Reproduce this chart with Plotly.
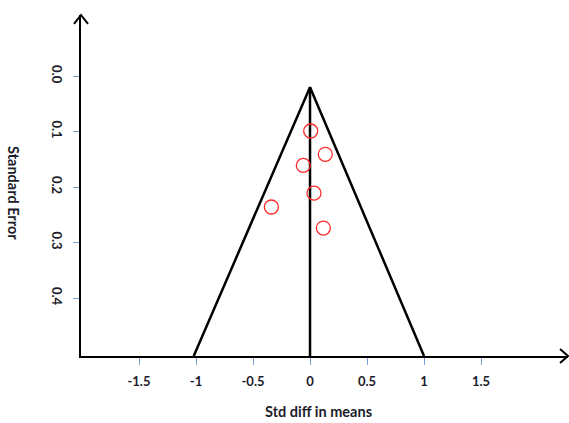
import plotly.graph_objects as go

# Study points (effect size, standard error)
effect = [0.006, 0.134, -0.059, 0.035, -0.339, 0.117]
std_err = [0.099, 0.141, 0.161, 0.211, 0.236, 0.274]

# Funnel outline
funnel_x = [-1.02, 0.0, 1.0]
funnel_se = [0.5045, 0.02, 0.5045]
mean_x = [0.0, 0.0]
mean_se = [0.02, 0.5045]

x_ticks = [-1.5, -1, -0.5, 0, 0.5, 1, 1.5]
x_labels = ["-1.5", "-1", "-0.5", "0", "0.5", "1", "1.5"]
y_ticks = [0.0, 0.1, 0.2, 0.3, 0.4]
y_labels = ["0.0", "0.1", "0.2", "0.3", "0.4"]

FONT = "Lato"
TXT = "#1c1c2a"

fig = go.Figure()
fig.add_trace(go.Scatter(x=funnel_x, y=funnel_se, mode="lines",
                         line=dict(color="black", width=2.5), hoverinfo="skip"))
fig.add_trace(go.Scatter(x=mean_x, y=mean_se, mode="lines",
                         line=dict(color="black", width=2.5), hoverinfo="skip"))
fig.add_trace(go.Scatter(x=effect, y=std_err, mode="markers",
                         marker=dict(symbol="circle-open", size=14,
                                     color="#ff2a2a", line=dict(width=1.3))))

fig.update_layout(
    width=569, height=423,
    margin=dict(l=81, r=1, t=15, b=67),
    paper_bgcolor="white", plot_bgcolor="white",
    showlegend=False,
    xaxis=dict(range=[-2.0088, 2.263], showgrid=False, zeroline=False,
               showline=True, linecolor="black", linewidth=2,
               tickmode="array", tickvals=x_ticks, ticktext=x_labels,
               ticks="outside", ticklen=7, tickcolor="#7a9fd0", tickwidth=1,
               ticklabelstandoff=5,
               tickfont=dict(family=FONT, size=13, color=TXT, weight="bold")),
    yaxis=dict(range=[0.5045, -0.110], showgrid=False, zeroline=False,
               showline=True, linecolor="black", linewidth=2,
               tickmode="array", tickvals=y_ticks, ticktext=y_labels,
               ticks="outside", ticklen=6, tickcolor="#7a9fd0", tickwidth=1,
               tickangle=90, ticklabelstandoff=5,
               tickfont=dict(family=FONT, size=13, color=TXT, weight="bold")),
    shapes=[
        dict(type="path", xref="paper", yref="paper",
             path="M 0.9836 0.0205 L 1 0 L 0.9836 -0.0205",
             line=dict(color="black", width=2)),
        dict(type="path", xref="paper", yref="paper",
             path="M -0.0144 0.974 L 0 1 L 0.0144 0.974",
             line=dict(color="black", width=2)),
    ],
    annotations=[
        dict(text="<b>Std diff in means</b>", xref="paper", yref="paper",
             x=0.4867, y=-0.164, xanchor="center", yanchor="middle",
             showarrow=False, font=dict(family=FONT, size=14.5, color=TXT)),
        dict(text="<b>Standard Error</b>", xref="paper", yref="paper",
             x=-0.1376, y=0.478, xanchor="center", yanchor="middle",
             textangle=90, showarrow=False,
             font=dict(family=FONT, size=14.5, color=TXT)),
    ],
)

fig.write_html("out.html")
